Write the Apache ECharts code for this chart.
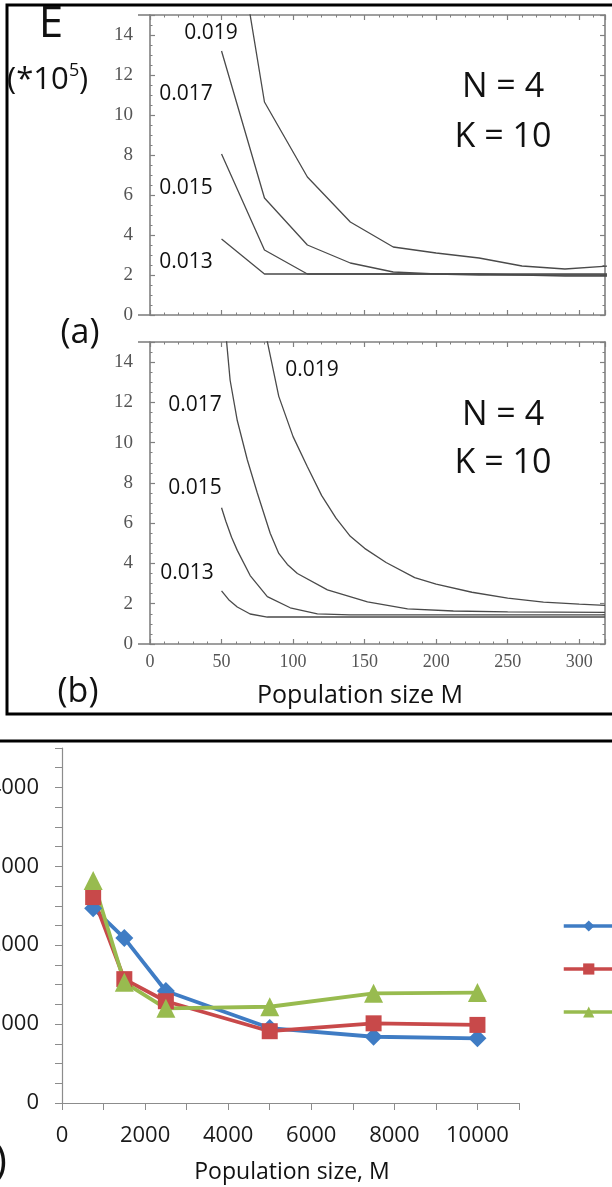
<!DOCTYPE html>
<html><head><meta charset="utf-8">
<script src="https://cdn.jsdelivr.net/npm/echarts@6/dist/echarts.min.js"></script>
<style>html,body{margin:0;padding:0;background:#fff}#main{width:612px;height:1187px}</style>
</head><body><div id="main"></div>
<script>
// ---------- panel (a) : E (*10^5) vs population size M ----------
const aM   = [50, 80, 110, 140, 170, 200, 230, 260, 290, 320];
const a019 = [23.7, 10.65, 6.9, 4.65, 3.4, 3.1, 2.85, 2.45, 2.3, 2.45];
const a017 = [13.2, 5.85, 3.5, 2.6, 2.15, 2.05, 2.05, 2.0, 1.95, 1.95];
const a015 = [8.05, 3.25, 2.05, 2.05, 2.05, 2.05, 2.0, 2.0, 2.0, 2.0];
const a013 = [3.8, 2.05, 2.05, 2.05, 2.05, 2.05, 2.05, 2.05, 2.05, 2.05];

// ---------- panel (b) ----------
const b019M = [80, 90, 100, 110, 120, 130, 140, 150, 165, 185, 200, 225, 250, 275, 300, 318];
const b019  = [15.7, 12.3, 10.3, 8.8, 7.37, 6.25, 5.35, 4.75, 4.05, 3.3, 2.97, 2.57, 2.28, 2.08, 1.98, 1.92];
const b017M = [52, 56, 61, 68, 75, 84, 90, 96, 103, 124, 152, 180, 212, 250, 318];
const b017  = [16.2, 13.1, 11.1, 9.15, 7.5, 5.5, 4.5, 3.95, 3.5, 2.69, 2.09, 1.74, 1.64, 1.6, 1.57];
const b015M = [50, 53, 57, 61, 70, 82, 98, 117, 140, 200, 318];
const b015  = [6.77, 6.1, 5.3, 4.65, 3.4, 2.35, 1.8, 1.5, 1.45, 1.45, 1.45];
const b013M = [50, 55, 61, 70, 82, 318];
const b013  = [2.64, 2.2, 1.84, 1.49, 1.34, 1.34];

// ---------- panel (c) ----------
const cM     = [750, 1500, 2500, 5000, 7500, 10000];
const cBlue  = [2470, 2090, 1420, 950, 840, 820];
const cRed   = [2610, 1570, 1290, 910, 1010, 990];
const cGreen = [2820, 1530, 1200, 1220, 1390, 1400];
const cNames = ['Series1', 'Series2', 'Series3'];

// tick settings
const abXMax = 318, abXStep = 50, abYMax = 15, abYStep = 2;
const cXMax = 11000, cXStep = 1000, cXLabelStep = 2000;
const cYMax = 4500, cYStep = 250, cYLabelStep = 1000;

const pair = (xs, ys) => xs.map((x, i) => [x, ys[i]]);
const frameColor = '#808080';
const serif = '"Liberation Serif", "DejaVu Serif", serif';
const sans = '"Open Sans", "Noto Sans", sans-serif';

function frameX(g, pos, show) {
  return {
    type: 'value', gridIndex: g, position: pos, min: 0, max: abXMax, interval: abXStep,
    axisLine: { show: true, onZero: false, lineStyle: { color: frameColor, width: 1.6 } },
    axisTick: { show: true, inside: true, length: 5, lineStyle: { color: frameColor, width: 1.2 } },
    minorTick: { show: true, splitNumber: 5, length: 2.5, lineStyle: { color: frameColor } },
    splitLine: { show: false },
    axisLabel: { show: show, margin: 9, color: '#555', fontFamily: serif, fontSize: 18,
      formatter: v => (v % abXStep === 0 ? String(v) : '') }
  };
}
function frameY(g, pos, show) {
  return {
    type: 'value', gridIndex: g, position: pos, min: 0, max: abYMax, interval: abYStep,
    axisLine: { show: true, onZero: false, lineStyle: { color: frameColor, width: 1.6 } },
    axisTick: { show: true, inside: true, length: 5, lineStyle: { color: frameColor, width: 1.2 } },
    minorTick: { show: true, splitNumber: 4, length: 2.5, lineStyle: { color: frameColor } },
    splitLine: { show: false },
    axisLabel: { show: show, margin: 17, color: '#555', fontFamily: serif, fontSize: 19,
      formatter: v => (v % abYStep === 0 ? String(v) : '') }
  };
}
function curve(name, xi, yi, xs, ys) {
  return { name: name, type: 'line', xAxisIndex: xi, yAxisIndex: yi, data: pair(xs, ys),
    showSymbol: false, symbol: 'none', clip: true, smooth: false, silent: true,
    lineStyle: { color: '#4a4a4a', width: 1.3 } };
}
function excel(name, ys, color, symbol, size) {
  return { name: name, type: 'line', xAxisIndex: 4, yAxisIndex: 4, data: pair(cM, ys),
    symbol: symbol, symbolSize: size, showSymbol: true,
    itemStyle: { color: color }, lineStyle: { color: color, width: 3.8 } };
}
function txt(x, y, s, font, align) {
  return { type: 'text', x: x, y: y, z: 10,
    style: { text: s, font: font, fill: '#111', align: align || 'center', verticalAlign: 'middle' } };
}
function hline(x1, x2, y) {
  return { type: 'line', shape: { x1: x1, y1: y, x2: x2, y2: y }, z: 5,
    style: { stroke: frameColor, lineWidth: 1.6 } };
}

const chart = echarts.init(document.getElementById('main'), null, { renderer: 'canvas' });
const option = {
  animation: false,
  backgroundColor: '#fff',
  grid: [
    { left: 150, top: 15, width: 455, height: 300, containLabel: false, outerBoundsMode: 'none' },
    { left: 150, top: 342, width: 455, height: 302, containLabel: false, outerBoundsMode: 'none' },
    { left: 62, top: 748, width: 457, height: 355, containLabel: false, outerBoundsMode: 'none' }
  ],
  xAxis: [
    frameX(0, 'bottom', false), frameX(0, 'top', false),
    frameX(1, 'bottom', true), frameX(1, 'top', false),
    { type: 'value', gridIndex: 2, position: 'bottom', min: 0, max: cXMax, interval: cXStep,
      axisLine: { show: true, onZero: false, lineStyle: { color: '#8c8c8c', width: 1.2 } },
      axisTick: { show: true, inside: false, length: 7, lineStyle: { color: '#8c8c8c' } },
      splitLine: { show: false },
      axisLabel: { margin: 22, color: '#1a1a1a', fontFamily: sans, fontSize: 22,
        formatter: v => (v % cXLabelStep === 0 && v <= 10000 ? String(v) : '') } }
  ],
  yAxis: [
    frameY(0, 'left', true), frameY(0, 'right', false),
    frameY(1, 'left', true), frameY(1, 'right', false),
    { type: 'value', gridIndex: 2, position: 'left', min: 0, max: cYMax, interval: cYStep,
      axisLine: { show: true, onZero: false, lineStyle: { color: '#8c8c8c', width: 1.2 } },
      axisTick: { show: true, inside: false, length: 7, lineStyle: { color: '#8c8c8c' } },
      splitLine: { show: false },
      axisLabel: { margin: 23, color: '#1a1a1a', fontFamily: sans, fontSize: 22,
        formatter: v => (v % cYLabelStep === 0 && v <= 4000 ? String(v) : '') } }
  ],
  legend: {
    data: cNames, orient: 'vertical', left: 562, top: 919, itemGap: 29, padding: 0,
    itemWidth: 50, itemHeight: 14,
    lineStyle: { width: 3.5 },
    textStyle: { fontFamily: sans, fontSize: 14, lineHeight: 14, color: '#111' }
  },
  series: [
    curve('0.019 (a)', 0, 0, aM, a019),
    curve('0.017 (a)', 0, 0, aM, a017),
    curve('0.015 (a)', 0, 0, aM, a015),
    curve('0.013 (a)', 0, 0, aM, a013),
    curve('0.019 (b)', 2, 2, b019M, b019),
    curve('0.017 (b)', 2, 2, b017M, b017),
    curve('0.015 (b)', 2, 2, b015M, b015),
    curve('0.013 (b)', 2, 2, b013M, b013),
    excel(cNames[0], cBlue, '#3f7cc4', 'diamond', 18),
    excel(cNames[1], cRed, '#c8494a', 'rect', 16),
    excel(cNames[2], cGreen, '#98bb4f', 'triangle', 19)
  ],
  graphic: [
    { type: 'rect', shape: { x: 7, y: 5, width: 640, height: 709 },
      style: { fill: 'transparent', stroke: '#000', lineWidth: 3 } },
    { type: 'rect', shape: { x: -20, y: 741, width: 660, height: 700 },
      style: { fill: 'transparent', stroke: '#000', lineWidth: 3 } },
    hline(138, 150, 15), hline(138, 150, 315), hline(138, 150, 342), hline(138, 150, 644),
    txt(51, 24, 'E', '44px ' + sans),
    txt(7, 80, '(*10', '31px ' + sans, 'left'),
    txt(69, 71, '5', '18px ' + sans, 'left'),
    txt(79, 80, ')', '31px ' + sans, 'left'),
    txt(80, 333, '(a)', '34px ' + sans),
    txt(78, 692, '(b)', '34px ' + sans),
    txt(211, 33, '0.019', '21px ' + sans),
    txt(186, 94, '0.017', '21px ' + sans),
    txt(186, 188, '0.015', '21px ' + sans),
    txt(186, 262, '0.013', '21px ' + sans),
    txt(312, 370, '0.019', '21px ' + sans),
    txt(195, 405, '0.017', '21px ' + sans),
    txt(195, 488, '0.015', '21px ' + sans),
    txt(187, 573, '0.013', '21px ' + sans),
    txt(503, 87, 'N = 4', '34px ' + sans),
    txt(503, 137, 'K = 10', '34px ' + sans),
    txt(503, 415, 'N = 4', '34px ' + sans),
    txt(503, 463, 'K = 10', '34px ' + sans),
    txt(360, 696, 'Population size M', '25px ' + sans),
    txt(292, 1172, 'Population size, M', '23px ' + sans),
    txt(7, 1162, '(c)', '42px ' + sans, 'right')
  ]
};
chart.setOption(option);
</script>
</body></html>
